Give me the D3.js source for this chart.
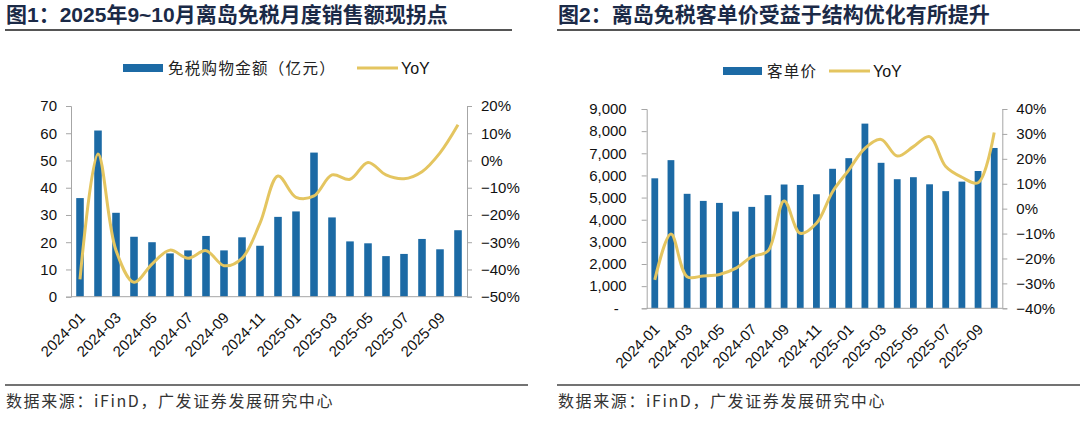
<!DOCTYPE html>
<html>
<head>
<meta charset="utf-8">
<script src="https://cdn.jsdelivr.net/npm/d3@7"></script>
<style>
  body { margin: 0; background: #fff; }
  svg { display: block; font-family: "Liberation Sans", Arial, "Noto Sans CJK SC", sans-serif; }
</style>
</head>
<body>
<svg width="1080" height="421"></svg>
<script>
let months = ['2024-01','2024-02','2024-03','2024-04','2024-05','2024-06','2024-07','2024-08','2024-09','2024-10','2024-11','2024-12',
              '2025-01','2025-02','2025-03','2025-04','2025-05','2025-06','2025-07','2025-08','2025-09','2025-10'];

// fig 1: monthly duty-free sales (100m yuan) and YoY (%)
let sales = [36.2, 61, 30.8, 22, 20, 15.9, 17, 22.3, 17, 21.8, 18.7, 29.3, 31.3, 52.9, 29.1, 20.3, 19.6, 14.9, 15.7, 21.2, 17.4, 24.4];
let salesYoy = [-43.6, 2.4, -33, -44.7, -38, -32.9, -35.9, -33.1, -38.6, -35.9, -23, -5.7, -13.5, -13, -5.3, -6.9, -0.7, -5.3, -6.7, -4.1, 2.8, 13.1];

// fig 2: average spend per customer (yuan) and YoY (%)
let perCustomer = [5870, 6690, 5170, 4850, 4760, 4370, 4580, 5110, 5590, 5570, 5150, 6300, 6780, 8340, 6570, 5830, 5920, 5600, 5290, 5720, 6200, 7240];
let perCustomerYoy = [-28.6, -10.2, -27.3, -27, -26.4, -24, -19.3, -17, 3.1, -9.9, -5.9, 6.8, 15.5, 24.2, 27.8, 21.1, 24.9, 28.9, 16.9, 12.6, 10.4, 30.6];

let blue = '#1c6aa5';
let gold = '#e4c560';
let cjk = '"Noto Sans CJK SC", sans-serif';

let svg = d3.select('svg');

let drawPanel = (o) => {
    let g = svg.append('g');

    // title + rule
    g.append('text')
        .attr('x', o.titleX).attr('y', 22)
        .style('font-family', '"Liberation Sans", Arial, "Noto Sans CJK SC", sans-serif')
        .style('font-weight', 'bold').style('font-size', '21px')
        .attr('fill', '#1b2a47')
        .text(o.title);
    g.append('line')
        .attr('x1', o.ruleX1).attr('x2', o.ruleX2).attr('y1', 30).attr('y2', 30)
        .attr('stroke', '#555').attr('stroke-width', 2);

    let xScale = d3.scaleBand()
        .domain(months)
        .range([o.left, o.right])
        .paddingInner(0.58).paddingOuter(0.29);

    let yScale = d3.scaleLinear().domain(o.yDomain).range([o.bottom, o.top]);
    let y2Scale = d3.scaleLinear().domain(o.y2Domain).range([o.bottom, o.top]);

    // bars
    g.selectAll('rect.bar')
        .data(o.bars)
        .enter()
        .append('rect')
        .attr('class', 'bar')
        .attr('x', (d, i) => xScale(months[i]))
        .attr('width', xScale.bandwidth())
        .attr('y', (d) => yScale(d))
        .attr('height', (d) => yScale(0) - yScale(d))
        .attr('fill', blue);

    // yoy line, smoothed like the office chart
    let line = d3.line()
        .x((d, i) => xScale(months[i]) + xScale.bandwidth() / 2)
        .y((d) => y2Scale(d / 100))
        .curve(d3.curveCatmullRom.alpha(0.5));
    g.append('path')
        .datum(o.line)
        .attr('d', line)
        .attr('fill', 'none')
        .attr('stroke', gold)
        .attr('stroke-width', 3);

    // axes
    let yAxis = d3.axisLeft(yScale)
        .tickValues(d3.range(o.yDomain[0], o.yDomain[1] + 1, o.yStep))
        .tickSize(5).tickPadding(o.leftPad)
        .tickFormat(o.yFormat);
    let ya = g.append('g')
        .attr('transform', 'translate(' + o.left + ',0)')
        .call(yAxis);

    let y2Axis = d3.axisRight(y2Scale)
        .tickValues(d3.range(o.y2Domain[0], o.y2Domain[1] + 0.001, 0.1))
        .tickSize(5).tickPadding(9)
        .tickFormat(d3.format('.0%'));
    let y2a = g.append('g')
        .attr('transform', 'translate(' + o.right + ',0)')
        .call(y2Axis);

    g.append('line')
        .attr('x1', o.left).attr('x2', o.right)
        .attr('y1', o.bottom).attr('y2', o.bottom)
        .attr('stroke', '#a6a6a6');

    [ya, y2a].forEach((a) => {
        a.select('.domain').attr('stroke', '#a6a6a6');
        a.selectAll('.tick line').attr('stroke', '#a6a6a6');
        a.selectAll('text')
            .style('font-family', '"Liberation Sans", Arial, sans-serif')
            .style('font-size', '15px').attr('fill', '#111');
    });
    ya.selectAll('text').filter((d) => d === 0 && o.zeroDash).attr('dx', -8);

    // rotated month labels, every other month
    g.selectAll('text.xl')
        .data(months.filter((m, i) => i % 2 === 0))
        .enter()
        .append('text')
        .attr('class', 'xl')
        .attr('transform', (m) => 'translate(' + (xScale(m) + xScale.bandwidth() / 2 + 6) + ',' + (o.bottom + 22) + ') rotate(-45)')
        .attr('text-anchor', 'end')
        .style('font-size', '15px')
        .attr('fill', '#111')
        .text((m) => m);

    // legend
    let lg = g.append('g');
    lg.append('rect')
        .attr('x', o.legX).attr('y', o.legY - 4)
        .attr('width', o.legBoxW).attr('height', 8)
        .attr('fill', blue);
    lg.append('text')
        .attr('x', o.legX + o.legBoxW + 5).attr('y', o.legY + 6)
        .style('font-family', cjk).style('font-size', '15.5px')
        .style('letter-spacing', '1.3px')
        .attr('fill', '#222')
        .text(o.legName);
    lg.append('line')
        .attr('x1', o.legLineX).attr('x2', o.legLineX + 41)
        .attr('y1', o.legY).attr('y2', o.legY)
        .attr('stroke', gold).attr('stroke-width', 3);
    lg.append('text')
        .attr('x', o.legLineX + 44).attr('y', o.legY + 6)
        .style('font-size', '16px')
        .attr('fill', '#111')
        .text('YoY');

    // footer
    g.append('line')
        .attr('x1', o.footX1).attr('x2', o.footX2).attr('y1', 385).attr('y2', 385)
        .attr('stroke', '#444').attr('stroke-width', 1.5);
    g.append('text')
        .attr('x', o.titleX).attr('y', 407)
        .style('font-family', '"Noto Sans CJK SC", sans-serif')
        .style('font-size', '16px')
        .style('letter-spacing', '1.6px')
        .attr('fill', '#333')
        .text('数据来源：iFinD，广发证券发展研究中心');
};

drawPanel({
    title: '图1：2025年9~10月离岛免税月度销售额现拐点',
    titleX: 6, ruleX1: 5, ruleX2: 512,
    left: 71, right: 467, top: 106, bottom: 296.7,
    bars: sales, line: salesYoy,
    yDomain: [0, 70], yStep: 10, y2Domain: [-0.5, 0.2],
    yFormat: d3.format('d'), leftPad: 9, zeroDash: false,
    legX: 123, legY: 68, legBoxW: 40, legName: '免税购物金额（亿元）', legLineX: 357,
    footX1: 5, footX2: 528
});

drawPanel({
    title: '图2：离岛免税客单价受益于结构优化有所提升',
    titleX: 558, ruleX1: 557, ruleX2: 1080,
    left: 646.7, right: 1002.3, top: 109, bottom: 308.3,
    bars: perCustomer, line: perCustomerYoy,
    yDomain: [0, 9000], yStep: 1000, y2Domain: [-0.4, 0.4],
    yFormat: (d) => d === 0 ? '-' : d3.format(',')(d), leftPad: 15, zeroDash: true,
    legX: 723, legY: 71, legBoxW: 39, legName: '客单价', legLineX: 829,
    footX1: 557, footX2: 1080
});
</script>
</body>
</html>
